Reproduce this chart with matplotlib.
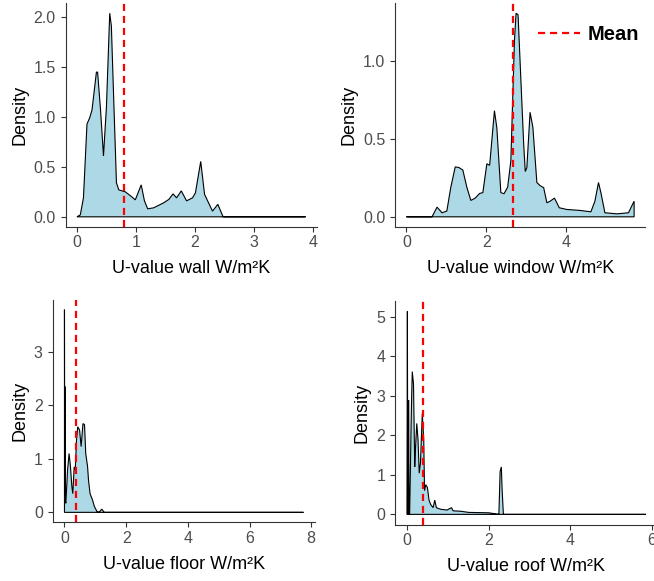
import matplotlib.pyplot as plt
from matplotlib.lines import Line2D

plt.rcParams['font.family'] = ['Liberation Sans', 'DejaVu Sans']

# density curves (x in W/m2K, y = density)
wall_x = [0, 0.057, 0.11, 0.17, 0.215, 0.255, 0.33, 0.35, 0.40, 0.45, 0.50, 0.556, 0.584, 0.624,
          0.67, 0.71, 0.82, 0.91, 0.99, 1.09, 1.145, 1.20, 1.30, 1.47, 1.56, 1.63, 1.69, 1.77,
          1.86, 1.96, 2.01, 2.10, 2.165, 2.30, 2.39, 2.48, 3.88]
wall_y = [0, 0.02, 0.19, 0.93, 0.99, 1.07, 1.45, 1.45, 1.07, 0.61, 1.10, 2.04, 1.91, 1.17,
          0.34, 0.27, 0.25, 0.21, 0.17, 0.32, 0.16, 0.08, 0.09, 0.14, 0.175, 0.23, 0.19, 0.26,
          0.16, 0.19, 0.24, 0.555, 0.225, 0.057, 0.125, 0, 0]
wall_mean = 0.80

window_x = [0, 0.64, 0.765, 0.89, 1.01, 1.11, 1.22, 1.31, 1.41, 1.51, 1.61, 1.72, 1.83, 1.91,
            2.01, 2.08, 2.20, 2.26, 2.36, 2.44, 2.53, 2.61, 2.70, 2.74, 2.79, 2.84, 2.93, 2.97,
            3.01, 3.09, 3.16, 3.26, 3.34, 3.43, 3.51, 3.59, 3.70, 3.82, 4.01, 4.34, 4.61, 4.71,
            4.80, 4.86, 4.96, 5.26, 5.55, 5.63, 5.69]
window_y = [0, 0, 0.062, 0.026, 0.037, 0.19, 0.32, 0.316, 0.30, 0.19, 0.105, 0.12, 0.15, 0.155,
            0.34, 0.33, 0.68, 0.57, 0.155, 0.148, 0.19, 0.36, 1.13, 1.305, 1.295, 1.0, 0.47, 0.29,
            0.316, 0.67, 0.574, 0.22, 0.20, 0.187, 0.09, 0.10, 0.12, 0.058, 0.047, 0.041, 0.032, 0.10,
            0.22, 0.155, 0.026, 0.019, 0.026, 0.069, 0.10]
window_mean = 2.67

floor_x = [0, 0, 0.008, 0.015, 0.022, 0.03, 0.045, 0.10, 0.15, 0.195, 0.24, 0.27, 0.315, 0.35,
           0.39, 0.43, 0.49, 0.54, 0.60, 0.65, 0.69, 0.75, 0.78, 0.83, 0.91, 0.97, 1.05, 1.12,
           1.21, 1.29, 7.75]
floor_y = [0, 3.79, 0.3, 0.3, 2.35, 0.2, 0.17, 0.79, 1.1, 0.85, 0.48, 0.35, 0.85, 0.79,
           1.35, 1.6, 1.54, 1.23, 1.66, 1.64, 1.1, 0.85, 0.6, 0.35, 0.23, 0.11, 0.02, 0,
           0.06, 0, 0]
floor_mean = 0.38

roof_x = [0, 0.01, 0.02, 0.035, 0.04, 0.05, 0.065, 0.08, 0.10, 0.115, 0.13, 0.16, 0.19, 0.21,
          0.24, 0.27, 0.30, 0.33, 0.375, 0.41, 0.43, 0.46, 0.50, 0.54, 0.58, 0.64, 0.68, 0.72,
          0.82, 0.98, 1.09, 1.13, 1.31, 1.51, 2.0, 2.25, 2.28, 2.31, 2.33, 2.36, 5.85]
roof_y = [0, 5.13, 0, 0, 2.89, 0, 0, 0.87, 2.2, 2.98, 3.61, 3.3, 1.2, 1.7,
          2.3, 1.9, 1.04, 1.3, 2.55, 1.9, 0.6, 0.75, 0.68, 0.36, 0.25, 0.17, 0.36, 0.17,
          0.13, 0.11, 0.17, 0.09, 0.08, 0.05, 0.04, 0, 1.08, 1.2, 0.6, 0, 0]
roof_mean = 0.40

panels = [
    (wall_x, wall_y, wall_mean, 'U-value wall W/m\u00b2K', [0, 1, 2, 3, 4], [0, 0.5, 1.0, 1.5, 2.0], '{:.1f}'),
    (window_x, window_y, window_mean, 'U-value window W/m\u00b2K', [0, 2, 4], [0, 0.5, 1.0], '{:.1f}'),
    (floor_x, floor_y, floor_mean, 'U-value floor W/m\u00b2K', [0, 2, 4, 6, 8], [0, 1, 2, 3], '{:.0f}'),
    (roof_x, roof_y, roof_mean, 'U-value roof W/m\u00b2K', [0, 2, 4, 6], [0, 1, 2, 3, 4, 5], '{:.0f}'),
]

# axes boxes in figure fractions
boxes = [
    (0.1002, 0.6093, 0.3846, 0.3855),
    (0.604, 0.6093, 0.383, 0.3855),
    (0.0803, 0.1007, 0.402, 0.3838),
    (0.604, 0.0972, 0.402, 0.3842),
]

fig = plt.figure(figsize=(6.54, 5.81), dpi=100)

for (xs, ys, mean, xlabel, xt, yt, fmt), box in zip(panels, boxes):
    ax = fig.add_axes(box)
    px = list(xs) + [xs[-1], xs[0]]
    py = list(ys) + [0, 0]
    ax.fill(px, py, facecolor='#ADD8E6', edgecolor='black', linewidth=0.8)
    ax.axvline(mean, color='red', linestyle=(0, (3.2, 2.2)), linewidth=1.6)
    xr = max(xs) - min(xs)
    yr = max(ys)
    ax.set_xlim(min(xs) - 0.05 * xr, max(xs) + 0.05 * xr)
    ax.set_ylim(-0.05 * yr, yr * 1.05)
    ax.set_xticks(xt)
    ax.set_yticks(yt)
    ax.set_yticklabels([fmt.format(v) for v in yt])
    for s in ['top', 'right']:
        ax.spines[s].set_visible(False)
    for s in ['left', 'bottom']:
        ax.spines[s].set_color('#333333')
        ax.spines[s].set_linewidth(0.8)
    ax.tick_params(axis='both', length=3.5, width=0.8, color='#333333',
                   labelcolor='#4D4D4D', labelsize=11.5)
    ax.tick_params(axis='x', pad=2.5)
    ax.tick_params(axis='y', pad=3.5)
    ax.set_xlabel(xlabel, fontsize=13, labelpad=7)
    ax.set_ylabel('Density', fontsize=13, labelpad=4)

handle = Line2D([], [], color='red', linestyle=(0, (3.2, 2.2)), linewidth=1.6)
fig.legend([handle], ['Mean'], loc='center left', bbox_to_anchor=(520 / 654, 1 - 35 / 581),
           frameon=False, handlelength=2.1, handletextpad=0.35,
           prop={'weight': 'bold', 'size': 14.5})

fig.savefig('out.png', dpi=100)
